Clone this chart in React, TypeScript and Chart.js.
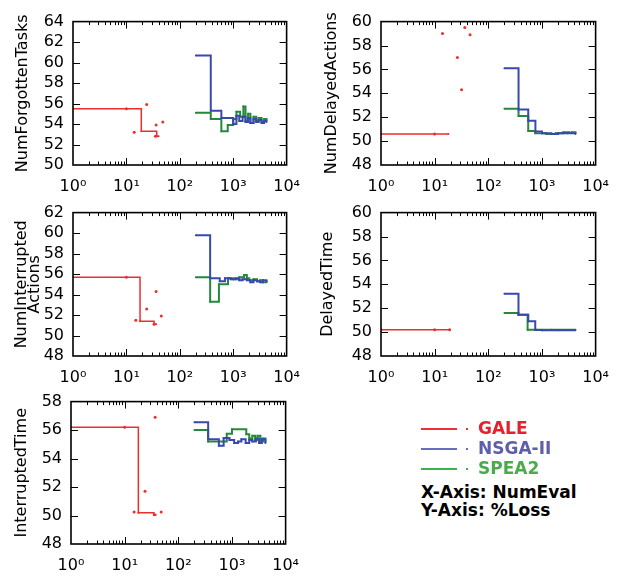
import React, { useEffect, useRef } from "react";
import { Chart, registerables } from "chart.js";
Chart.register(...registerables);

// ---------- shared tick labels ----------
const xTickValues = [1, 10, 100, 1000, 10000];
const xTickLabels = ["10\u2070", "10\u00B9", "10\u00B2", "10\u00B3", "10\u2074"];

// ---------- NumForgottenTasks ----------
const forgotGaleX = [1, 19, 37, 40];
const forgotGaleY = [55.5, 53.3, 52.8, 52.8];
const forgotGaleDotX = [10, 14, 24, 36, 35, 48];
const forgotGaleDotY = [55.5, 53.2, 55.9, 53.9, 52.8, 54.2];
const forgotNsgaX = [200, 380, 600, 800, 1000, 1150, 1300, 1500, 1700, 1900, 2100, 2400, 2700, 3000, 3400, 3800, 4200];
const forgotNsgaY = [60.7, 55.3, 54.6, 54.6, 54.0, 54.8, 54.3, 54.7, 54.2, 54.6, 54.1, 54.5, 54.2, 54.4, 54.1, 54.3, 54.2];
const forgotSpeaX = [200, 380, 600, 790, 1000, 1150, 1350, 1550, 1700, 1900, 2100, 2400, 2700, 3000, 3400, 3800, 4200];
const forgotSpeaY = [55.1, 54.5, 53.3, 53.9, 54.5, 55.2, 54.7, 55.7, 54.3, 55.0, 54.1, 54.7, 54.3, 54.6, 54.2, 54.5, 54.4];

// ---------- NumDelayedActions ----------
const delActGaleX = [1, 18];
const delActGaleY = [50.6, 50.6];
const delActGaleDotX = [10, 14, 26.5, 31.7, 36.5, 45.7];
const delActGaleDotY = [50.6, 59.0, 57.0, 54.3, 59.5, 58.9];
const delActNsgaX = [200, 366, 555, 755, 1000, 1500, 2000, 3000, 4200];
const delActNsgaY = [56.1, 52.65, 51.7, 50.8, 50.65, 50.6, 50.65, 50.65, 50.6];
const delActSpeaX = [200, 366, 555, 750, 1200, 1800, 2500, 3200, 3600, 4200];
const delActSpeaY = [52.7, 52.1, 50.85, 50.65, 50.6, 50.65, 50.75, 50.7, 50.75, 50.7];

// ---------- NumInterruptedActions ----------
const intActGaleX = [1, 18, 33, 36];
const intActGaleY = [55.7, 51.4, 51.1, 51.1];
const intActGaleDotX = [10, 15, 24, 36, 33, 45];
const intActGaleDotY = [55.7, 51.5, 52.6, 54.3, 51.1, 51.9];
const intActNsgaX = [200, 370, 560, 700, 900, 1100, 1300, 1500, 1800, 2100, 2400, 2800, 3200, 3600, 4200];
const intActNsgaY = [59.8, 55.6, 55.3, 55.6, 55.5, 55.6, 55.4, 55.5, 55.4, 55.2, 55.4, 55.3, 55.2, 55.4, 55.3];
const intActSpeaX = [200, 370, 540, 800, 1000, 1300, 1600, 1800, 2000, 2400, 2800, 3200, 3600, 4200];
const intActSpeaY = [55.7, 53.3, 55.0, 55.6, 55.5, 55.7, 55.9, 55.6, 55.4, 55.5, 55.3, 55.4, 55.2, 55.3];

// ---------- DelayedTime ----------
const delTimeGaleX = [1, 19];
const delTimeGaleY = [50.2, 50.2];
const delTimeGaleDotX = [1, 10, 19];
const delTimeGaleDotY = [50.2, 50.2, 50.2];
const delTimeNsgaX = [200, 365, 556, 750, 1000, 2000, 4200];
const delTimeNsgaY = [53.2, 51.45, 50.9, 50.17, 50.15, 50.15, 50.15];
const delTimeSpeaX = [200, 365, 540, 800, 1500, 4200];
const delTimeSpeaY = [51.6, 51.45, 50.2, 50.2, 50.2, 50.2];

// ---------- InterruptedTime ----------
const intTimeGaleX = [1, 18, 35, 38];
const intTimeGaleY = [56.2, 50.2, 50.05, 50.05];
const intTimeGaleDotX = [10, 15, 24, 37, 36, 48];
const intTimeGaleDotY = [56.2, 50.25, 51.7, 56.9, 50.05, 50.25];
const intTimeNsgaX = [200, 360, 570, 700, 900, 1100, 1300, 1500, 1800, 2100, 2400, 2800, 3200, 3600, 4200];
const intTimeNsgaY = [56.55, 55.35, 54.9, 55.45, 55.3, 55.1, 55.2, 55.35, 55.1, 55.3, 55.2, 55.4, 55.1, 55.35, 55.1];
const intTimeSpeaX = [200, 360, 800, 1000, 1850, 2100, 2400, 2700, 3000, 3400, 3800, 4200];
const intTimeSpeaY = [56.0, 55.2, 55.75, 56.05, 55.7, 55.4, 55.6, 55.3, 55.6, 55.2, 55.4, 55.2];

// ---------- styling ----------
const FONT = "'DejaVu Sans', 'Liberation Sans', sans-serif";
const RED = "#ee2d2d";
const BLUE = "#3a48ad";
const GREEN = "#24893a";

const AXIS_W = 72; // space left of plot area
const AXIS_H = 42; // space below plot area
const PAD_T = 12;
const PAD_R = 18;

const zip = (xs: number[], ys: number[]) => xs.map((x, i) => ({ x, y: ys[i] }));

type Panel = {
  title: string | string[];
  yMin: number;
  yMax: number;
  galeX: number[]; galeY: number[];
  dotX: number[]; dotY: number[];
  nsgaX: number[]; nsgaY: number[];
  speaX: number[]; speaY: number[];
  // layout
  left: number; top: number; w: number; h: number; titlePad: number;
};

const panels: Panel[] = [
  { title: "NumForgottenTasks", yMin: 50, yMax: 64,
    galeX: forgotGaleX, galeY: forgotGaleY, dotX: forgotGaleDotX, dotY: forgotGaleDotY,
    nsgaX: forgotNsgaX, nsgaY: forgotNsgaY, speaX: forgotSpeaX, speaY: forgotSpeaY,
    left: 73, top: 15, w: 221, h: 150, titlePad: 15 },
  { title: "NumDelayedActions", yMin: 48, yMax: 60,
    galeX: delActGaleX, galeY: delActGaleY, dotX: delActGaleDotX, dotY: delActGaleDotY,
    nsgaX: delActNsgaX, nsgaY: delActNsgaY, speaX: delActSpeaX, speaY: delActSpeaY,
    left: 381, top: 15, w: 222, h: 150, titlePad: 16 },
  { title: ["NumInterrupted", "Actions"], yMin: 48, yMax: 62,
    galeX: intActGaleX, galeY: intActGaleY, dotX: intActGaleDotX, dotY: intActGaleDotY,
    nsgaX: intActNsgaX, nsgaY: intActNsgaY, speaX: intActSpeaX, speaY: intActSpeaY,
    left: 73, top: 206, w: 221, h: 150, titlePad: 14 },
  { title: "DelayedTime", yMin: 48, yMax: 60,
    galeX: delTimeGaleX, galeY: delTimeGaleY, dotX: delTimeGaleDotX, dotY: delTimeGaleDotY,
    nsgaX: delTimeNsgaX, nsgaY: delTimeNsgaY, speaX: delTimeSpeaX, speaY: delTimeSpeaY,
    left: 381, top: 206, w: 222, h: 150, titlePad: 12 },
  { title: "InterruptedTime", yMin: 48, yMax: 58,
    galeX: intTimeGaleX, galeY: intTimeGaleY, dotX: intTimeGaleDotX, dotY: intTimeGaleDotY,
    nsgaX: intTimeNsgaX, nsgaY: intTimeNsgaY, speaX: intTimeSpeaX, speaY: intTimeSpeaY,
    left: 71, top: 395, w: 222, h: 149, titlePad: 16 },
];

const framePlugin = {
  id: "frameTicks",
  afterDraw(chart: any) {
    const { ctx, chartArea } = chart;
    const { left, right, top, bottom } = chartArea;
    const xs = chart.scales.x;
    const ys = chart.scales.y;
    ctx.save();
    ctx.strokeStyle = "#000";
    ctx.lineWidth = 1;
    ctx.beginPath();
    for (let k = 0; k < 4; k++) {
      for (let m = 1; m <= 9; m++) {
        const v = m * Math.pow(10, k);
        if (v <= 1 || v >= 10000) continue;
        const px = Math.round(xs.getPixelForValue(v)) + 0.5;
        const len = m === 1 ? 7 : 3.5;
        ctx.moveTo(px, bottom); ctx.lineTo(px, bottom - len);
        ctx.moveTo(px, top); ctx.lineTo(px, top + len);
      }
    }
    for (const t of ys.ticks) {
      if (t.value <= ys.min || t.value >= ys.max) continue;
      const py = Math.round(ys.getPixelForValue(t.value)) + 0.5;
      ctx.moveTo(left, py); ctx.lineTo(left + 7, py);
      ctx.moveTo(right, py); ctx.lineTo(right - 7, py);
    }
    ctx.stroke();
    ctx.lineWidth = 1.6;
    ctx.strokeRect(left, top, right - left, bottom - top);
    ctx.restore();
  },
};

function SubPlot({ p }: { p: Panel }) {
  const ref = useRef<HTMLCanvasElement>(null);
  const cw = AXIS_W + p.w + PAD_R;
  const ch = PAD_T + p.h + AXIS_H;
  useEffect(() => {
    const canvas = ref.current!;
    const lineDs = (xs: number[], ys: number[], color: string, width: number) => ({
      data: zip(xs, ys),
      showLine: true,
      stepped: "before" as const,
      borderColor: color,
      backgroundColor: color,
      borderWidth: width,
      pointRadius: 1,
      pointBorderWidth: 0,
    });
    const chart = new Chart(canvas, {
      type: "scatter",
      data: {
        datasets: [
          lineDs(p.galeX, p.galeY, RED, 1.5),
          {
            data: zip(p.dotX, p.dotY),
            showLine: false,
            borderColor: RED,
            backgroundColor: RED,
            pointRadius: 1.5,
            pointBorderWidth: 0,
          },
          lineDs(p.nsgaX, p.nsgaY, BLUE, 2),
          lineDs(p.speaX, p.speaY, GREEN, 2),
        ],
      },
      options: {
        animation: false,
        responsive: false,
        devicePixelRatio: 1,
        layout: { padding: { left: 0, top: PAD_T, right: PAD_R, bottom: 0 } },
        plugins: { legend: { display: false }, tooltip: { enabled: false } },
        scales: {
          x: {
            type: "logarithmic",
            min: 1,
            max: 10000,
            afterBuildTicks: (s: any) => {
              s.ticks = xTickValues.map((v) => ({ value: v }));
            },
            afterFit: (s: any) => {
              s.height = AXIS_H;
            },
            ticks: {
              autoSkip: false,
              maxRotation: 0,
              padding: 12,
              color: "#000",
              font: { family: FONT, size: 16 },
              callback: (_v: any, i: number) => xTickLabels[i],
            },
            grid: { display: false, drawTicks: false },
            border: { display: false },
          },
          y: {
            type: "linear",
            min: p.yMin,
            max: p.yMax,
            afterFit: (s: any) => {
              s.width = AXIS_W;
            },
            ticks: {
              autoSkip: false,
              stepSize: 2,
              padding: 9,
              color: "#000",
              font: { family: FONT, size: 16 },
            },
            title: {
              display: true,
              text: p.title,
              color: "#000",
              font: { family: FONT, size: 16, lineHeight: 0.82 },
              padding: { top: p.titlePad, bottom: 0 },
            },
            grid: { display: false, drawTicks: false },
            border: { display: false },
          },
        },
      },
      plugins: [framePlugin],
    } as any);
    return () => chart.destroy();
  }, [p]);
  return (
    <canvas
      ref={ref}
      width={cw}
      height={ch}
      style={{ position: "absolute", left: p.left - AXIS_W, top: p.top - PAD_T, width: cw, height: ch }}
    />
  );
}

const legendItems = [
  { label: "GALE", line: "#ee3030", text: "#e8202c" },
  { label: "NSGA-II", line: "#6a6cc0", text: "#5d5fab" },
  { label: "SPEA2", line: "#3cb24a", text: "#4aab4c" },
];

function Legend() {
  const lf = { fontFamily: FONT, fontWeight: "bold" as const, fontSize: 17, lineHeight: "20px", whiteSpace: "nowrap" as const };
  return (
    <div style={{ position: "absolute", left: 421, top: 418 }}>
      {legendItems.map((it) => (
        <div key={it.label} style={{ position: "relative", height: 20, ...lf }}>
          <span style={{ position: "absolute", left: 0, top: 10, width: 36, height: 1.5, background: it.line }} />
          <span style={{ position: "absolute", left: 45, top: 10, width: 2, height: 2, background: it.line }} />
          <span style={{ position: "absolute", left: 57, top: 0, color: it.text }}>{it.label}</span>
        </div>
      ))}
      <div style={{ ...lf, marginTop: 4, color: "#000" }}>X-Axis: NumEval</div>
      <div style={{ ...lf, marginTop: -2, color: "#000" }}>Y-Axis: %Loss</div>
    </div>
  );
}

export default function App() {
  return (
    <div style={{ position: "absolute", left: 0, top: 0, width: 627, height: 581, background: "#fff", overflow: "hidden" }}>
      {panels.map((p, i) => (
        <SubPlot key={i} p={p} />
      ))}
      <Legend />
    </div>
  );
}
